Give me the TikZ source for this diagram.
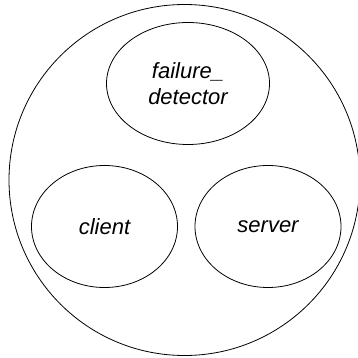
\documentclass[tikz,border=0pt]{standalone}
\usepackage{fontspec}
\setmainfont{Liberation Sans}
\usetikzlibrary{shapes.geometric, positioning}

\begin{document}
\begin{tikzpicture}[
    x=1pt, y=-1pt,
    part/.style={draw, ellipse, line width=0.8pt, inner sep=0pt, minimum width=146pt, minimum height=122pt, align=center, font=\fontsize{22}{26}\selectfont\itshape},
    whole/.style={draw, circle, line width=0.8pt, inner sep=0pt, minimum size=351pt},
  ]
    \useasboundingbox (0,0) rectangle (358,358);
    \node[whole] (system) at (184.5,180) {};
    \node[part, minimum width=163pt] (detector) at (188,83.5) {failure\_\\detector};
    \node[part] (client) at (104.5,226.5) {client};
    \node[part] (server) at (268,226.5) {server};
  \end{tikzpicture}
\end{document}
